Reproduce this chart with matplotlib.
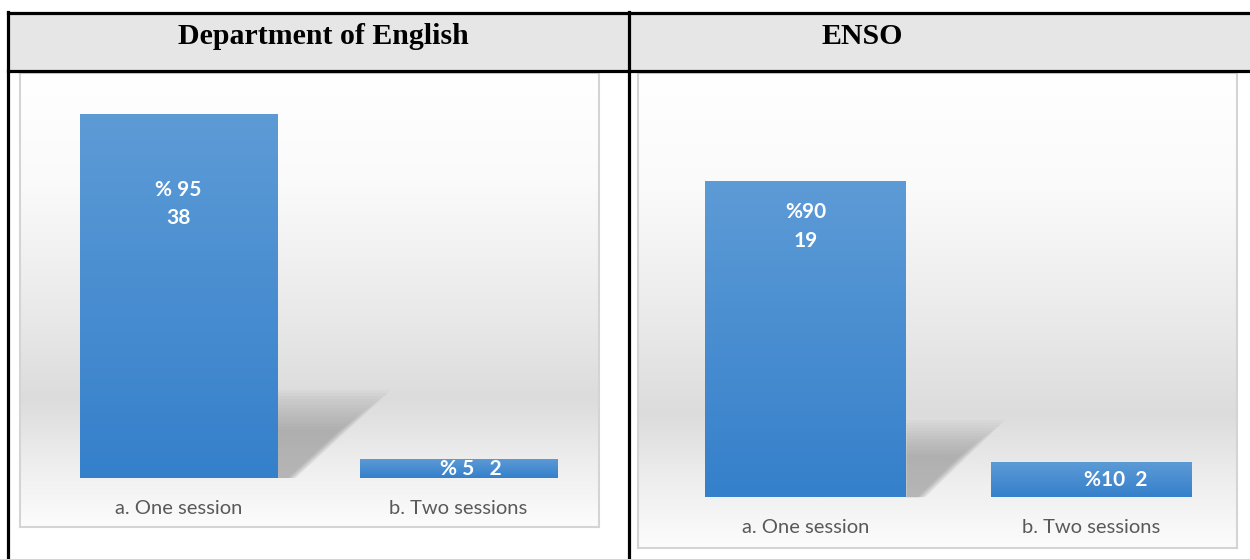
import numpy as np
import matplotlib.pyplot as plt
from matplotlib.colors import to_rgb
from matplotlib.patches import Rectangle, Polygon
from matplotlib.lines import Line2D

# =============================================================================
# DATA
# =============================================================================
categories = ['a. One session', 'b. Two sessions']
titles = ['Department of English', 'ENSO']
eng_pct = [95, 5]
eng_cnt = [38, 2]
enso_pct = [90, 10]
enso_cnt = [19, 2]
eng_labels = ['% 95\n38', '% 5   2']
enso_labels = ['%90\n19', '%10  2']

W, H = 1250, 559
BAR_TOP, BAR_BOT = '#5d9bd6', '#3580cb'
TXT_GRAY = '#595959'


def fx(px):
    return px / W


def fy(py):
    return 1 - py / H


def vgrad(stops, n=256):
    """Vertical gray gradient (top->bottom) from (frac, value) stops."""
    t = np.linspace(0, 1, n)
    g = np.interp(t, [s[0] for s in stops], [s[1] for s in stops]) / 255.0
    return np.repeat(g[:, None, None], 3, axis=2)


def draw_chart(ax, values, labels, label_pos, cat_y, xlim, ylim, shadow):
    ax.set_xlim(*xlim)
    ax.set_ylim(*ylim)
    # background gradient
    bg = vgrad([(0, 255), (0.25, 250), (0.55, 232), (0.72, 220), (0.86, 238), (1, 252)])
    ax.imshow(bg, extent=[0, 1, 0, 1], transform=ax.transAxes, aspect='auto', zorder=0)

    x = np.arange(len(values))
    bars = ax.bar(x, values, width=0.704, color=BAR_TOP, zorder=3, linewidth=0)

    # soft perspective shadow behind the first bar
    b0 = bars[0]
    xr = b0.get_x() + b0.get_width()
    top, reach, foot = shadow
    n = 14
    for k in range(n):
        s = 1 - k * 0.035
        ax.add_patch(Polygon([(xr, 0), (xr, top * s), (xr + (reach - xr) * s, top * s),
                              (xr + (foot - xr) * s, 0)], closed=True, facecolor='#7a7a7a',
                             edgecolor='none', alpha=0.045, zorder=2))

    # bar gradients
    grad = np.linspace(0, 1, 256)[:, None, None]
    c1 = np.array(to_rgb(BAR_TOP))
    c2 = np.array(to_rgb(BAR_BOT))
    img = c1 * (1 - grad) + c2 * grad
    for b in bars:
        im = ax.imshow(img, extent=[b.get_x(), b.get_x() + b.get_width(), 0, b.get_height()],
                       aspect='auto', zorder=3.5)
        im.set_clip_path(b)

    for i, (lab, (dx, yy)) in enumerate(zip(labels, label_pos)):
        ax.text(i + dx, yy, lab, ha='center', va='center', color='white',
                fontsize=15, fontweight='bold', family='Lato', linespacing=1.55,
                zorder=5)
    for i, c in enumerate(categories):
        ax.text(i, cat_y, c, ha='center', va='center', color=TXT_GRAY,
                fontsize=14.5, family='Lato', zorder=5)

    ax.set_xticks([])
    ax.set_yticks([])
    for sp in ax.spines.values():
        sp.set_color('#d4d4d4')
        sp.set_linewidth(1.5)


fig = plt.figure(figsize=(12.5, 5.59), dpi=100)

# table header + grid lines
fig.add_artist(Rectangle((fx(8), fy(71)), fx(1250 - 8), 58 / H, transform=fig.transFigure,
                         facecolor='#e6e6e6', edgecolor='none', zorder=0))
lw = 2.3
for (x0, y0, x1, y1) in [(8, 13, 1250, 13), (8, 71, 1250, 71), (8, 12, 8, 559), (629, 12, 629, 559)]:
    fig.add_artist(Line2D([fx(x0), fx(x1)], [fy(y0), fy(y1)], color='black', lw=lw,
                          transform=fig.transFigure, zorder=10))

fig.text(fx(323), fy(37), titles[0], ha='center', va='center', fontsize=21.5,
         fontweight='bold', family='Liberation Serif')
fig.text(fx(862), fy(37), titles[1], ha='center', va='center', fontsize=21.5,
         fontweight='bold', family='Liberation Serif')

# left chart
ax1 = fig.add_axes([fx(20), fy(527), fx(599 - 20), (527 - 73) / H])
draw_chart(ax1, eng_pct, eng_labels,
           label_pos=[(0, 71.5), (0.045, 2.4)], cat_y=-8.1,
           xlim=(-0.567, 1.502), ylim=(-12.8, 105.7),
           shadow=(23, 0.76, 0.42))

# right chart
ax2 = fig.add_axes([fx(638), fy(548), fx(1237 - 638), (548 - 73) / H])
draw_chart(ax2, enso_pct, enso_labels,
           label_pos=[(0, 77), (0.084, 4.8)], cat_y=-8.8,
           xlim=(-0.588, 1.510), ylim=(-14.5, 120.8),
           shadow=(22, 0.70, 0.42))

fig.savefig('out.png', dpi=100)
